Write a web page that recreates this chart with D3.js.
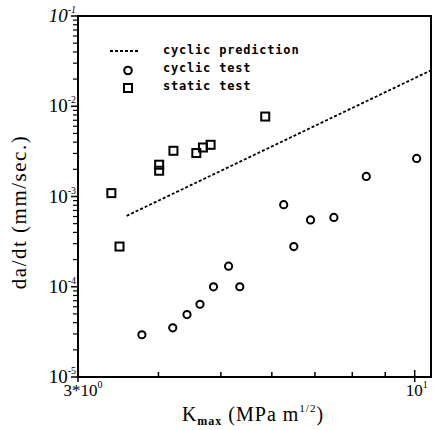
<!DOCTYPE html>
<html><head><meta charset="utf-8">
<script src="https://cdn.jsdelivr.net/npm/d3@7"></script>
<style>body{margin:0;background:#fff}</style>
</head><body>
<svg id="c" width="434" height="430"></svg>
<script>
const staticK = [3.38, 3.48, 4.01, 4.01, 4.22, 4.58, 4.69, 4.82, 5.86];
const staticRate = [1.09e-3, 2.79e-4, 1.93e-3, 2.25e-3, 3.21e-3, 3.03e-3, 3.49e-3, 3.74e-3, 7.69e-3];
const cyclicK = [3.77, 4.21, 4.43, 4.64, 4.87, 5.14, 5.35, 6.26, 6.49, 6.89, 7.49, 8.41, 10.07];
const cyclicRate = [2.94e-5, 3.51e-5, 4.92e-5, 6.40e-5, 9.97e-5, 1.69e-4, 1.0e-4, 8.11e-4, 2.79e-4, 5.5e-4, 5.87e-4, 1.67e-3, 2.64e-3];
const predK = [3.57, 10.6];
const predRate = [6.1e-4, 2.5e-2];
const yTicks = [1e-5, 1e-4, 1e-3, 1e-2, 1e-1];
const yTickExp = ["-5", "-4", "-3", "-2", "-1"];
const legendLabels = ["cyclic prediction", "cyclic test", "static test"];

const svg = d3.select("#c");
const L = 78, R = 431, T = 16, B = 377;
const x = d3.scaleLog().domain([3, 10.6]).range([L, R]);
const y = d3.scaleLog().domain([1e-5, 1e-1]).range([B, T]);

// frame
svg.append("rect").attr("x", L).attr("y", T).attr("width", R - L).attr("height", B - T)
  .attr("fill", "none").attr("stroke", "#000").attr("stroke-width", 2);

// y minor ticks (outward, left)
const yMinor = [];
for (let e = -5; e < -1; e++) for (let m = 2; m <= 9; m++) yMinor.push(m * Math.pow(10, e));
svg.append("g").selectAll("line").data(yMinor).join("line")
  .attr("x1", L - 5).attr("x2", L).attr("y1", d => y(d)).attr("y2", d => y(d))
  .attr("stroke", "#000").attr("stroke-width", 1.2);
svg.append("g").selectAll("line").data(yTicks).join("line")
  .attr("x1", L - 7).attr("x2", L).attr("y1", d => y(d)).attr("y2", d => y(d))
  .attr("stroke", "#000").attr("stroke-width", 1.5);

// y tick labels
const yl = svg.append("g").selectAll("text").data(yTicks).join("text")
  .attr("x", L - 2).attr("y", d => y(d) + 6)
  .attr("text-anchor", "end")
  .attr("font-family", "Liberation Serif").attr("font-size", 19)
  .attr("font-style", (d, i) => i === 4 ? "italic" : "normal");
yl.append("tspan").text("10");
yl.append("tspan").attr("dy", -9).attr("font-size", 10).text((d, i) => yTickExp[i]);

// x ticks (inward)
const xMinor = [4, 5, 6, 7, 8, 9];
svg.append("g").selectAll("line").data(xMinor).join("line")
  .attr("x1", d => x(d)).attr("x2", d => x(d)).attr("y1", B).attr("y2", B - 5)
  .attr("stroke", "#000").attr("stroke-width", 1.5);
svg.append("g").selectAll("line").data([3, 10]).join("line")
  .attr("x1", d => x(d)).attr("x2", d => x(d)).attr("y1", B + 5).attr("y2", B - 7)
  .attr("stroke", "#000").attr("stroke-width", 1.5);

const xl1 = svg.append("text").attr("x", x(3) + 5).attr("y", B + 19).attr("text-anchor", "middle")
  .attr("font-family", "Liberation Serif").attr("font-size", 17);
xl1.append("tspan").text("3*10");
xl1.append("tspan").attr("dy", -8).attr("font-size", 10).text("0");
const xl2 = svg.append("text").attr("x", x(10) + 2).attr("y", B + 19).attr("text-anchor", "middle")
  .attr("font-family", "Liberation Serif").attr("font-size", 17);
xl2.append("tspan").text("10");
xl2.append("tspan").attr("dy", -8).attr("font-size", 10).text("1");

// axis titles
const xt = svg.append("text").attr("x", 253).attr("y", 421).attr("text-anchor", "middle")
  .attr("font-family", "Liberation Serif").attr("font-size", 20).attr("letter-spacing", 1);
xt.append("tspan").text("K");
xt.append("tspan").attr("dy", 4).attr("font-size", 12).attr("font-weight", "bold").text("max");
xt.append("tspan").attr("dy", -4).text(" (MPa m");
xt.append("tspan").attr("dy", -9).attr("font-size", 11).text("1/2");
xt.append("tspan").attr("dy", 9).text(")");

svg.append("text").attr("transform", "translate(26,212) rotate(-90)")
  .attr("text-anchor", "middle").attr("font-family", "Liberation Serif").attr("font-size", 21)
  .attr("letter-spacing", 1.5)
  .text("da/dt (mm/sec.)");

// prediction line
const line = d3.line().x(d => x(d[0])).y(d => y(d[1]));
svg.append("path").datum(d3.zip(predK, predRate)).attr("d", line)
  .attr("fill", "none").attr("stroke", "#000").attr("stroke-width", 1.8).attr("stroke-dasharray", "3,2");

// cyclic circles
svg.append("g").selectAll("circle").data(d3.zip(cyclicK, cyclicRate)).join("circle")
  .attr("cx", d => x(d[0])).attr("cy", d => y(d[1])).attr("r", 3.6)
  .attr("fill", "#fff").attr("stroke", "#000").attr("stroke-width", 2);

// static squares
svg.append("g").selectAll("rect").data(d3.zip(staticK, staticRate)).join("rect")
  .attr("x", d => x(d[0]) - 4).attr("y", d => y(d[1]) - 4).attr("width", 8).attr("height", 8)
  .attr("fill", "none").attr("stroke", "#000").attr("stroke-width", 2);

// legend
const lg = svg.append("g").attr("font-family", "DejaVu Sans Mono").attr("font-weight", "bold").attr("font-size", 12).attr("letter-spacing", 0.8);
lg.append("line").attr("x1", 110).attr("x2", 140).attr("y1", 51).attr("y2", 51)
  .attr("stroke", "#000").attr("stroke-width", 1.8).attr("stroke-dasharray", "3,2");
lg.append("circle").attr("cx", 128).attr("cy", 70.5).attr("r", 3.8).attr("fill", "#fff").attr("stroke", "#000").attr("stroke-width", 2);
lg.append("rect").attr("x", 124).attr("y", 84).attr("width", 8).attr("height", 8).attr("fill", "none").attr("stroke", "#000").attr("stroke-width", 2);
lg.selectAll("text").data(legendLabels).join("text")
  .attr("x", 163).attr("y", (d, i) => 54 + i * 18).text(d => d);
</script>
</body></html>
